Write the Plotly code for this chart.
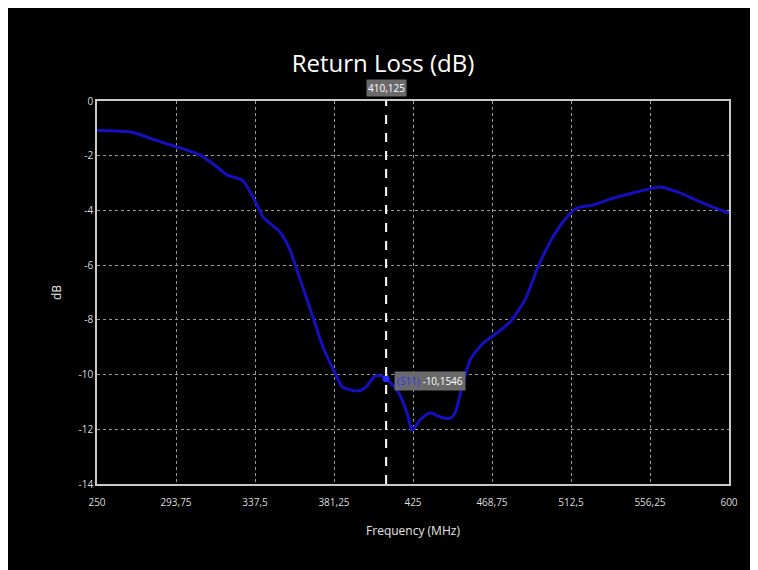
import plotly.graph_objects as go

freq_mhz = [250, 269.9, 283.2, 294.3, 307.0, 316.5, 322.0, 330.9, 338.6, 341.9,
            351.3, 356.9, 360.8, 369.6, 375.2, 382.9, 385.7, 394.0, 398.4, 404.0,
            407.8, 410.125, 416.1, 421.7, 424.4, 428.9, 434.4, 440.0, 445.5, 448.3,
            452.7, 456.6, 463.8, 471.5, 478.7, 487.0, 494.2, 502.5, 510.3, 515.8,
            524.7, 535.8, 546.8, 561.8, 572.9, 584.0, 595.0, 600]
s11_db = [-1.08, -1.15, -1.45, -1.68, -1.97, -2.41, -2.70, -2.92, -3.80, -4.24,
          -4.79, -5.45, -6.20, -7.90, -9.00, -10.09, -10.45, -10.60, -10.49, -10.05,
          -10.05, -10.1546, -10.56, -11.40, -12.03, -11.66, -11.40, -11.55, -11.60, -11.40,
          -10.30, -9.47, -8.85, -8.48, -8.08, -7.27, -6.07, -4.97, -4.24, -3.91,
          -3.80, -3.55, -3.36, -3.14, -3.36, -3.69, -3.98, -4.09]

x_ticks = [250, 293.75, 337.5, 381.25, 425, 468.75, 512.5, 556.25, 600]
x_tick_labels = ["250", "293,75", "337,5", "381,25", "425", "468,75", "512,5", "556,25", "600"]
y_ticks = [0, -2, -4, -6, -8, -10, -12, -14]
y_tick_labels = ["0", "-2", "-4", "-6", "-8", "-10", "-12", "-14"]

cursor_freq = 410.125
cursor_val = -10.1546
cursor_freq_label = "410,125"
cursor_val_label = "-10,1546"
series_name = "(S11)"

font_family = "Open Sans, Noto Sans, sans-serif"
line_blue = "#1410c0"

fig = go.Figure()
fig.add_trace(go.Scatter(
    x=freq_mhz, y=s11_db, mode="lines",
    line=dict(color=line_blue, width=3, shape="spline", smoothing=0.6),
    showlegend=False, hoverinfo="skip"))
fig.add_trace(go.Scatter(
    x=[cursor_freq], y=[cursor_val], mode="markers",
    marker=dict(color="#2a2aff", size=7), showlegend=False, hoverinfo="skip"))

fig.add_shape(type="line", xref="x", yref="paper", x0=cursor_freq, x1=cursor_freq,
              y0=0, y1=1, line=dict(color="white", width=2, dash="dash"))

fig.add_annotation(x=cursor_freq, y=1, xref="x", yref="paper", yanchor="bottom",
                   yshift=4, text=cursor_freq_label, showarrow=False,
                   bgcolor="#6a6a6a", borderpad=1,
                   font=dict(color="white", size=10, family=font_family))
fig.add_annotation(x=cursor_freq, y=cursor_val, xref="x", yref="y", xanchor="left",
                   xshift=8, yshift=-2, showarrow=False,
                   text=f"<span style='color:#3030ff'>{series_name}</span> {cursor_val_label}",
                   bgcolor="#6a6a6a", borderpad=2,
                   font=dict(color="white", size=10, family=font_family))

grid_color = "#9a9a9a"
fig.update_xaxes(range=[250, 600], tickvals=x_ticks, ticktext=x_tick_labels,
                 showgrid=True, gridcolor=grid_color, griddash="dot", gridwidth=1,
                 showline=True, mirror=True, linecolor="#c8c8c8", linewidth=1.5,
                 zeroline=False, ticks="", ticklabelstandoff=8,
                 tickfont=dict(color="#dddddd", size=10, family=font_family),
                 title=dict(text="Frequency (MHz)", standoff=19,
                            font=dict(color="#e6e6e6", size=12, family=font_family)))
fig.update_yaxes(range=[-14, 0], tickvals=y_ticks, ticktext=y_tick_labels,
                 showgrid=True, gridcolor=grid_color, griddash="dot", gridwidth=1,
                 showline=True, mirror=True, linecolor="#c8c8c8", linewidth=1.5,
                 zeroline=False, ticks="",
                 tickfont=dict(color="#dddddd", size=10, family=font_family),
                 title=dict(text="dB", standoff=14,
                            font=dict(color="#e6e6e6", size=12, family=font_family)))

fig.update_layout(
    width=750, height=562,
    margin=dict(l=89, r=29, t=93, b=86),
    paper_bgcolor="black", plot_bgcolor="black",
    title=dict(text="Return Loss (dB)", x=0.5, xanchor="center", y=1 - 56 / 562,
               yanchor="middle", font=dict(color="white", size=24, family=font_family)),
)

fig.write_html("out.html")
